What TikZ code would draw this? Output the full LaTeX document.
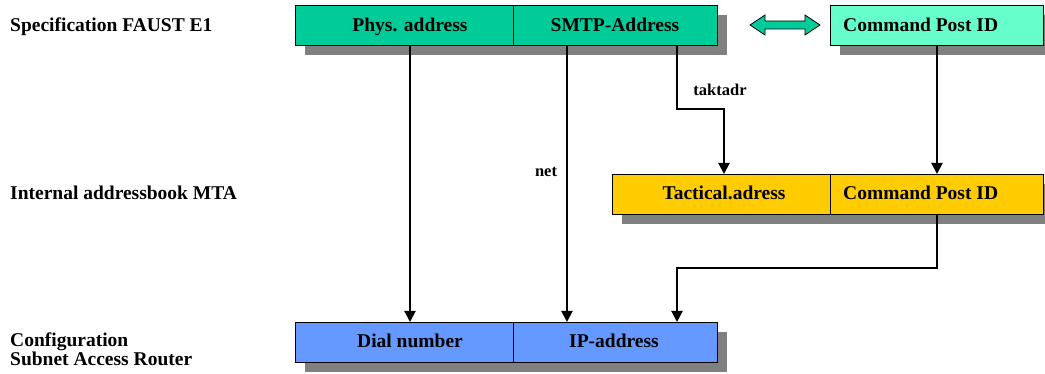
\documentclass[tikz,border=0pt]{standalone}
\usepackage{fontspec}
\setmainfont{Liberation Serif}
\usetikzlibrary{arrows.meta}
\definecolor{specgreen}{HTML}{00CC99}
\definecolor{specmint}{HTML}{66FFCC}
\definecolor{mtayellow}{HTML}{FFCC00}
\definecolor{routerblue}{HTML}{6699FF}
\definecolor{shadowgray}{HTML}{808080}
\begin{document}
\begin{tikzpicture}[x=1pt,y=-1pt,
  field/.style={draw=black, line width=0.8pt, minimum height=40pt,
    inner sep=0pt, anchor=north west},
  txt/.style={font=\fontsize{19.5}{19}\selectfont\bfseries, anchor=base, inner sep=0pt},
  rowlabel/.style={txt, anchor=base west},
  smalltxt/.style={font=\fontsize{16.5}{18}\selectfont\bfseries, anchor=base, inner sep=0pt},
  conn/.style={line width=2pt, -{Triangle[length=11pt,width=11pt]}}]
\useasboundingbox (0,0) rectangle (1045,374);

% drop shadows
\fill[shadowgray] (305,15) rectangle (727,55);
\fill[shadowgray] (840,15) rectangle (1045,55);
\fill[shadowgray] (622,184) rectangle (1045,224);
\fill[shadowgray] (305,332) rectangle (727,372);

% field boxes
\node[field, fill=specgreen, minimum width=218pt] (phys) at (295,5) {};
\node[field, fill=specgreen, minimum width=204pt] (smtp) at (513,5) {};
\node[field, fill=specmint, minimum width=213pt] (cpid) at (830,5) {};
\node[field, fill=mtayellow, minimum width=218pt] (tac) at (612,174) {};
\node[field, fill=mtayellow, minimum width=213pt] (cpmta) at (830,174) {};
\node[field, fill=routerblue, minimum width=218pt] (dial) at (295,322) {};
\node[field, fill=routerblue, minimum width=204pt] (ip) at (513,322) {};

% field texts
\node[txt] (physlbl) at (410,31.5) {Phys. address};
\node[txt] (smtplbl) at (615,31.5) {SMTP-Address};
\node[txt, anchor=base west] (cpidlbl) at (843,31.5) {Command Post ID};
\node[txt] (taclbl) at (724,200) {Tactical.adress};
\node[txt, anchor=base west] (cpmtalbl) at (843,200) {Command Post ID};
\node[txt] (diallbl) at (410,348) {Dial number};
\node[txt] (iplbl) at (614,348) {IP-address};

% row labels
\node[rowlabel] (rowspec) at (10,31.5) {Specification FAUST E1};
\node[rowlabel] (rowmta) at (10,200) {Internal addressbook MTA};
\node[rowlabel] (rowcfg) at (10,346) {Configuration};
\node[rowlabel] (rowsar) at (10,365) {Subnet Access Router};

% equivalence arrow
\filldraw[fill=specgreen, draw=black, line width=0.8pt]
  (750,25) -- (765,15) -- (765,21) -- (805,21) -- (805,15) -- (820,25)
  -- (805,35) -- (805,29) -- (765,29) -- (765,35) -- cycle;

% connector columns and bends
\coordinate (colphys) at (410,0);
\coordinate (colnet) at (567,0);
\coordinate (colcp) at (937,0);
\coordinate (tk1) at (677,109);
\coordinate (tk2) at (724,109);
\coordinate (bt1) at (937,268);
\coordinate (bt2) at (677,268);

\draw[conn] (colphys |- phys.south) -- (colphys |- dial.north);
\draw[conn] (colnet |- smtp.south) -- (colnet |- ip.north);
\draw[conn] (tk1 |- smtp.south) -- (tk1) -- (tk2) -- (tk2 |- tac.north);
\draw[conn] (colcp |- cpid.south) -- (colcp |- cpmta.north);
\draw[conn] (bt1 |- cpmta.south) -- (bt1) -- (bt2) -- (bt2 |- ip.north);

% connector labels
\node[smalltxt] (netlbl) at (546,177) {net};
\node[smalltxt] (taklbl) at (720,96) {taktadr};
\end{tikzpicture}
\end{document}
